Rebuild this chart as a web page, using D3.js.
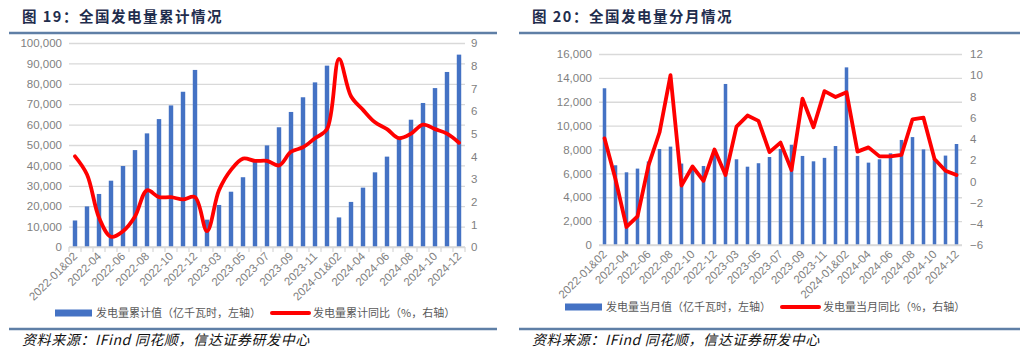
<!DOCTYPE html>
<html>
<head>
<meta charset="utf-8">
<script src="https://cdn.jsdelivr.net/npm/d3@7"></script>
<style>
  body { margin: 0; background: #fff; }
  svg { display: block; font-family: "Noto Sans CJK SC", "Noto Sans", sans-serif; }
</style>
</head>
<body>
<svg id="chart" width="1027" height="354"></svg>
<script>
// Categories (same for both charts)
const months = [
  "2022-01&02","2022-03","2022-04","2022-05","2022-06","2022-07","2022-08","2022-09","2022-10","2022-11","2022-12",
  "2023-01&02","2023-03","2023-04","2023-05","2023-06","2023-07","2023-08","2023-09","2023-10","2023-11","2023-12",
  "2024-01&02","2024-03","2024-04","2024-05","2024-06","2024-07","2024-08","2024-09","2024-10","2024-11","2024-12"
];

// Figure 19: cumulative generation (亿千瓦时) and cumulative YoY (%)
const cumValue = [
  13000, 19900, 26000, 32500, 39700, 47500, 55700, 62700, 69400, 76100, 86800,
  13400, 20600, 27100, 34200, 42000, 49800, 58700, 66200, 73400, 80700, 88900,
  14500, 22100, 29100, 36600, 44300, 53100, 62400, 70600, 77900, 85800, 94300
];
const cumYoY = [
  4.0, 3.2, 1.3, 0.45, 0.7, 1.35, 2.5, 2.2, 2.2, 2.1, 2.2,
  0.7, 2.5, 3.4, 3.9, 3.8, 3.8, 3.6, 4.2, 4.4, 4.8, 5.2,
  8.3, 6.65, 6.05, 5.5, 5.2, 4.8, 5.0, 5.4, 5.2, 5.0, 4.6
];

// Figure 20: monthly generation (亿千瓦时) and monthly YoY (%)
const monValue = [
  13130, 6680, 6090, 6400, 7000, 8040, 8240, 6820, 6280, 6620, 7540,
  13490, 7180, 6560, 6850, 7370, 8050, 8400, 7460, 7010, 7300, 8290,
  14880, 7460, 6900, 7180, 7680, 8800, 9040, 8010, 7200, 7490, 8460
];
const monYoY = [
  4.05, 0.2, -4.3, -3.3, 1.5, 4.6, 10.0, -0.4, 1.4, 0.05, 3.0,
  0.6, 5.15, 6.2, 5.7, 2.75, 3.65, 1.07, 7.8, 5.1, 8.5, 7.95,
  8.4, 2.8, 3.2, 2.35, 2.35, 2.5, 5.85, 6.0, 2.1, 1.0, 0.6
];

// Axis ticks
const cumLeftTicks = [0, 10000, 20000, 30000, 40000, 50000, 60000, 70000, 80000, 90000, 100000];
const cumRightTicks = [0, 1, 2, 3, 4, 5, 6, 7, 8, 9];
const monLeftTicks = [0, 2000, 4000, 6000, 8000, 10000, 12000, 14000, 16000];
const monRightTicks = [-6, -4, -2, 0, 2, 4, 6, 8, 10, 12];

const blue = "#4472C4";
const red = "#FF0000";
const grid = "#D9D9D9";
const tickColor = "#7F7F7F";
const navy = "#1F2D4D";
const rule = "#5F7FA6";

const svg = d3.select("#chart");

const drawPanel = (opt) => {
  const g = svg.append("g");

  // Title and rules
  g.append("text")
    .attr("x", opt.panelX + 13)
    .attr("y", 22)
    .attr("fill", navy)
    .attr("font-size", 14.5)
    .attr("font-weight", "bold")
    .attr("letter-spacing", 1.5)
    .text(opt.title);
  g.append("line")
    .attr("x1", opt.panelX).attr("x2", opt.panelX + opt.panelW)
    .attr("y1", 33).attr("y2", 33)
    .attr("stroke", rule).attr("stroke-width", 2.5);
  g.append("line")
    .attr("x1", opt.panelX).attr("x2", opt.panelX + opt.panelW)
    .attr("y1", 329).attr("y2", 329)
    .attr("stroke", rule).attr("stroke-width", 2.5);
  g.append("text")
    .attr("x", opt.panelX + 13)
    .attr("y", 345)
    .attr("font-size", 14)
    .attr("font-style", "italic")
    .attr("letter-spacing", 0.6)
    .attr("fill", "#111")
    .text("资料来源：IFind 同花顺，信达证券研发中心");

  // Scales
  const x = d3.scaleBand()
    .domain(months)
    .range([opt.left, opt.right])
    .paddingInner(opt.padding)
    .paddingOuter(opt.padding / 2);
  const yL = d3.scaleLinear().domain(opt.leftDomain).range([opt.bottom, opt.top]);
  const yR = d3.scaleLinear().domain(opt.rightDomain).range([opt.bottom, opt.top]);

  // Gridlines + left axis labels
  const leftAxis = g.append("g")
    .attr("transform", `translate(${opt.left}, 0)`)
    .call(d3.axisLeft(yL).tickValues(opt.leftTicks).tickSize(-(opt.right - opt.left)).tickPadding(7).tickFormat(d3.format(",")));
  leftAxis.select(".domain").remove();
  leftAxis.selectAll(".tick line").attr("stroke", grid).attr("stroke-width", 1.3);
  leftAxis.selectAll(".tick text").attr("fill", tickColor).attr("font-size", 11.5).attr("font-family", "Liberation Sans, Arial, sans-serif");

  const rightAxis = g.append("g")
    .attr("transform", `translate(${opt.right}, 0)`)
    .call(d3.axisRight(yR).tickValues(opt.rightTicks).tickSize(0).tickPadding(opt.rightPad));
  rightAxis.select(".domain").remove();
  rightAxis.selectAll(".tick text").attr("fill", tickColor).attr("font-size", 11.5).attr("font-family", "Liberation Sans, Arial, sans-serif");

  // Bars
  g.append("g")
    .selectAll("rect")
    .data(months)
    .join("rect")
      .attr("x", (d) => x(d))
      .attr("width", x.bandwidth())
      .attr("y", (d, i) => yL(opt.bars[i]))
      .attr("height", (d, i) => yL(0) - yL(opt.bars[i]))
      .attr("fill", blue);

  // Baseline + category ticks
  const step = x.step();
  g.append("line")
    .attr("x1", opt.left).attr("x2", opt.right)
    .attr("y1", opt.bottom).attr("y2", opt.bottom)
    .attr("stroke", grid).attr("stroke-width", 1.3);
  if (opt.catTicks) {
    g.append("g")
      .selectAll("line")
      .data(d3.range(months.length + 1))
      .join("line")
        .attr("x1", (i) => opt.left + i * step)
        .attr("x2", (i) => opt.left + i * step)
        .attr("y1", opt.bottom)
        .attr("y2", opt.bottom + 5)
        .attr("stroke", grid).attr("stroke-width", 1.3);
  }

  // Line
  const line = d3.line()
    .x((d, i) => x(months[i]) + x.bandwidth() / 2)
    .y((d) => yR(d))
    .curve(opt.smooth ? d3.curveCatmullRom.alpha(0.5) : d3.curveLinear);
  g.append("path")
    .datum(opt.line)
    .attr("d", line)
    .attr("fill", "none")
    .attr("stroke", red)
    .attr("stroke-width", 3.8)
    .attr("stroke-linejoin", "round")
    .attr("stroke-linecap", "round");

  // X labels (every other category)
  g.append("g")
    .selectAll("text")
    .data(months.filter((d, i) => i % 2 === 0))
    .join("text")
      .attr("transform", (d) => `translate(${x(d) + x.bandwidth() / 2 + 3}, ${opt.bottom + 10}) rotate(-45)`)
      .attr("text-anchor", "end")
      .attr("font-size", 11.5)
      .attr("font-family", "Liberation Sans, Arial, sans-serif")
      .attr("fill", tickColor)
      .text((d) => d);

  // Legend
  const lg = g.append("g").attr("transform", `translate(${opt.legendX}, ${opt.legendY})`);
  lg.append("rect").attr("x", 0).attr("y", -3.5).attr("width", 37).attr("height", 7).attr("fill", blue);
  lg.append("text").attr("x", 41).attr("y", 4).attr("font-size", 11).attr("fill", "#595959").text(opt.barName);
  lg.append("line").attr("x1", opt.legendGap).attr("x2", opt.legendGap + 37).attr("y1", 0).attr("y2", 0)
    .attr("stroke", red).attr("stroke-width", 4).attr("stroke-linecap", "round");
  lg.append("text").attr("x", opt.legendGap + 41).attr("y", 4).attr("font-size", 11).attr("fill", "#595959").text(opt.lineName);
};

drawPanel({
  panelX: 9, panelW: 488,
  title: "图 19：全国发电量累计情况",
  left: 69, right: 465, top: 43, bottom: 247,
  padding: 0.63,
  leftDomain: [0, 100000], rightDomain: [0, 9],
  leftTicks: cumLeftTicks, rightTicks: cumRightTicks, rightPad: 6,
  bars: cumValue, line: cumYoY, smooth: true, catTicks: true,
  legendX: 55, legendY: 313, legendGap: 217,
  barName: "发电量累计值（亿千瓦时，左轴）",
  lineName: "发电量累计同比（%，右轴）"
});

drawPanel({
  panelX: 519, panelW: 501,
  title: "图 20：全国发电量分月情况",
  left: 599, right: 962, top: 54, bottom: 245,
  padding: 0.68,
  leftDomain: [0, 16000], rightDomain: [-6, 12],
  leftTicks: monLeftTicks, rightTicks: monRightTicks, rightPad: 8,
  bars: monValue, line: monYoY, smooth: false, catTicks: false,
  legendX: 565, legendY: 307, legendGap: 217,
  barName: "发电量当月值（亿千瓦时，左轴）",
  lineName: "发电量当月同比（%，右轴）"
});
</script>
</body>
</html>
